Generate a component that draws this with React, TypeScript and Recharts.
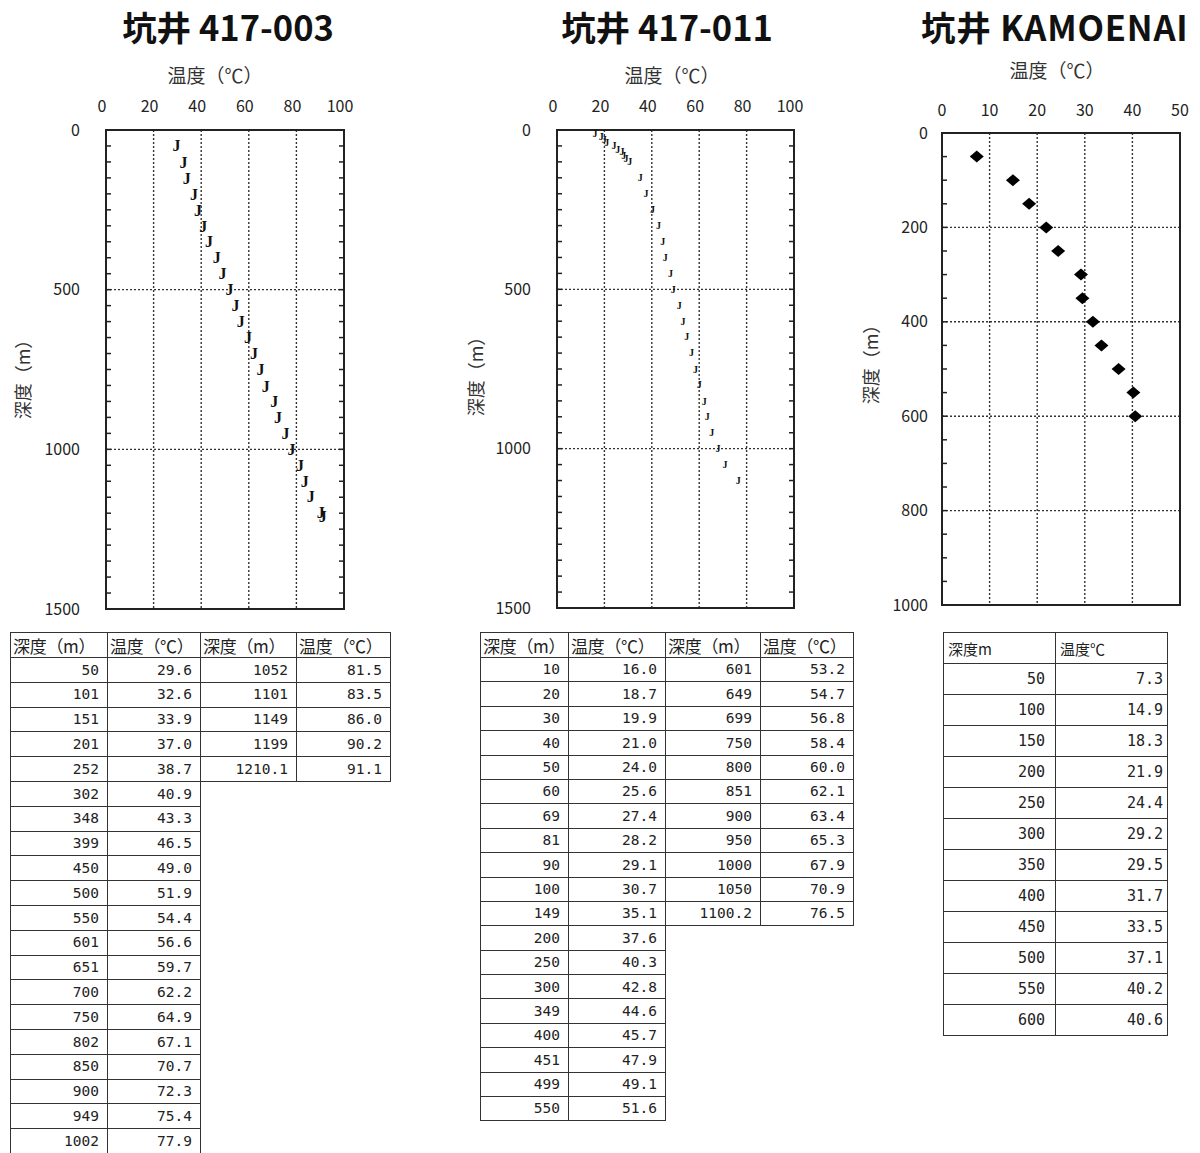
import React from "react";
import { ScatterChart, Scatter, XAxis, YAxis, CartesianGrid, ReferenceArea } from "recharts";

// 坑井 417-003
const depth003 = [50, 101, 151, 201, 252, 302, 348, 399, 450, 500, 550, 601, 651, 700, 750, 802, 850, 900, 949, 1002, 1052, 1101, 1149, 1199, 1210.1];
const temp003 = [29.6, 32.6, 33.9, 37.0, 38.7, 40.9, 43.3, 46.5, 49.0, 51.9, 54.4, 56.6, 59.7, 62.2, 64.9, 67.1, 70.7, 72.3, 75.4, 77.9, 81.5, 83.5, 86.0, 90.2, 91.1];
const split003 = 20;

// 坑井 417-011
const depth011 = [10, 20, 30, 40, 50, 60, 69, 81, 90, 100, 149, 200, 250, 300, 349, 400, 451, 499, 550, 601, 649, 699, 750, 800, 851, 900, 950, 1000, 1050, 1100.2];
const temp011 = [16.0, 18.7, 19.9, 21.0, 24.0, 25.6, 27.4, 28.2, 29.1, 30.7, 35.1, 37.6, 40.3, 42.8, 44.6, 45.7, 47.9, 49.1, 51.6, 53.2, 54.7, 56.8, 58.4, 60.0, 62.1, 63.4, 65.3, 67.9, 70.9, 76.5];
const split011 = 19;

// 坑井 KAMOENAI
const depthKam = [50, 100, 150, 200, 250, 300, 350, 400, 450, 500, 550, 600];
const tempKam = [7.3, 14.9, 18.3, 21.9, 24.4, 29.2, 29.5, 31.7, 33.5, 37.1, 40.2, 40.6];

const tempTicks100 = [0, 20, 40, 60, 80, 100];
const depthTicks1500 = [0, 500, 1000, 1500];
const tempTicks50 = [0, 10, 20, 30, 40, 50];
const depthTicks1000 = [0, 200, 400, 600, 800, 1000];

const steps = (max: number, step: number) => {
  const out: number[] = [];
  for (let v = 0; v <= max + 1e-9; v += step) out.push(v);
  return out;
};

const CJK = '"Noto Sans CJK JP", "Noto Sans", sans-serif';
const MONO = '"DejaVu Sans Mono", "Liberation Mono", monospace';
const INK = "#222";

const JMark = (size: number) => (p: any) => (
  <text x={p.cx} y={p.cy} textAnchor="middle" dominantBaseline="central"
    fontFamily='"Liberation Serif", serif' fontWeight="bold" fontSize={size} fill="#111">J</text>
);

const Diamond = (p: any) => (
  <polygon
    points={`${p.cx},${p.cy - 6} ${p.cx + 7},${p.cy} ${p.cx},${p.cy + 6} ${p.cx - 7},${p.cy}`}
    fill="#000"
  />
);

const NoTick = () => <g />;

interface ProfileProps {
  depths: number[];
  temps: number[];
  xMax: number;
  yMax: number;
  xTicks: number[];
  yTicks: number[];
  xMinor: number;
  yMinor: number;
  sides: { top: boolean; bottom: boolean; left: boolean; right: boolean };
  width: number;
  height: number;
  margin: { top: number; right: number; bottom: number; left: number };
  xGap: number;
  yGap: number;
  xShift: number;
  shape: any;
}

function Profile(props: ProfileProps) {
  const { depths, temps, xMax, yMax, xTicks, yTicks, sides } = props;
  const data = depths.map((d, i) => ({ d, t: temps[i] }));
  const xm = steps(xMax, props.xMinor);
  const ym = steps(yMax, props.yMinor);
  const tickFont = { fontSize: 16, fill: INK, fontFamily: CJK };
  const minorLine = { stroke: INK, strokeWidth: 1.5 };
  return (
    <ScatterChart width={props.width} height={props.height} margin={props.margin}>
      <CartesianGrid stroke="#333" strokeWidth={1.4} strokeDasharray="2 2" />
      <XAxis type="number" dataKey="t" orientation="top" domain={[0, xMax]} ticks={xTicks} interval={0}
        height={1} tickSize={0} tickMargin={props.xGap} axisLine={false} tickLine={false}
        tick={{ ...tickFont, dx: props.xShift }} allowDataOverflow />
      <YAxis type="number" dataKey="d" orientation="left" reversed domain={[0, yMax]} ticks={yTicks} interval={0}
        width={1} tickSize={0} tickMargin={props.yGap} axisLine={false} tickLine={false} tick={tickFont} allowDataOverflow />
      {sides.top && (
        <XAxis xAxisId="mt" type="number" orientation="top" mirror domain={[0, xMax]} ticks={xm} interval={0} allowDataOverflow
          height={1} tickSize={5} tick={NoTick} axisLine={false} tickLine={minorLine} />
      )}
      {sides.bottom && (
        <XAxis xAxisId="mb" type="number" orientation="bottom" mirror domain={[0, xMax]} ticks={xm} interval={0} allowDataOverflow
          height={1} tickSize={5} tick={NoTick} axisLine={false} tickLine={minorLine} />
      )}
      {sides.left && (
        <YAxis yAxisId="ml" type="number" orientation="left" mirror reversed domain={[0, yMax]} ticks={ym} interval={0} allowDataOverflow
          width={1} tickSize={5} tick={NoTick} axisLine={false} tickLine={minorLine} />
      )}
      {sides.right && (
        <YAxis yAxisId="mr" type="number" orientation="right" mirror reversed domain={[0, yMax]} ticks={ym} interval={0} allowDataOverflow
          width={1} tickSize={5} tick={NoTick} axisLine={false} tickLine={minorLine} />
      )}
      <ReferenceArea x1={0} x2={xMax} y1={0} y2={yMax} fill="none" stroke={INK} strokeWidth={2} />
      <Scatter data={data} dataKey="d" shape={props.shape} isAnimationActive={false} />
    </ScatterChart>
  );
}

interface PairTableProps {
  depths: number[];
  temps: number[];
  split: number;
  left: number;
  top: number;
  cols: number[];
  headH: number;
  rowH: number;
}

function PairTable({ depths, temps, split, left, top, cols, headH, rowH }: PairTableProps) {
  const bd = "1.5px solid #333";
  const cell = (txt: string, w: number, on: boolean) => (
    <td style={{
      width: w, height: rowH, padding: "0 8px 0 0", textAlign: "right", border: on ? bd : "none",
      fontFamily: MONO, fontSize: 14.5, color: INK, boxSizing: "border-box", lineHeight: 1,
    }}>{txt}</td>
  );
  const head = (txt: string, w: number) => (
    <td style={{
      width: w, height: headH, padding: "0 0 0 2px", textAlign: "left", border: bd, whiteSpace: "nowrap",
      fontFamily: CJK, fontSize: 17, letterSpacing: -0.3, color: INK, boxSizing: "border-box", lineHeight: 1, overflow: "hidden",
    }}>{txt}</td>
  );
  const rows = [];
  for (let i = 0; i < split; i++) {
    const j = split + i;
    const has = j < depths.length;
    rows.push(
      <tr key={i}>
        {cell(String(depths[i]), cols[0], true)}
        {cell(temps[i].toFixed(1), cols[1], true)}
        {cell(has ? String(depths[j]) : "", cols[2], has)}
        {cell(has ? temps[j].toFixed(1) : "", cols[3], has)}
      </tr>
    );
  }
  const total = cols.reduce((a, b) => a + b, 0);
  return (
    <table style={{ position: "absolute", left, top, width: total, borderCollapse: "collapse", tableLayout: "fixed" }}>
      <colgroup>
        {cols.map((w, i) => <col key={i} style={{ width: w }} />)}
      </colgroup>
      <tbody>
        <tr>
          {head("深度（m）", cols[0])}
          {head("温度（℃）", cols[1])}
          {head("深度（m）", cols[2])}
          {head("温度（℃）", cols[3])}
        </tr>
        {rows}
      </tbody>
    </table>
  );
}

function KamTable() {
  const bd = "1.5px solid #333";
  const base = { border: bd, boxSizing: "border-box" as const, color: INK, height: 31, lineHeight: 1 };
  return (
    <table style={{ position: "absolute", left: 943, top: 632, width: 224, borderCollapse: "collapse", tableLayout: "fixed" }}>
      <tbody>
        <tr>
          <td style={{ ...base, width: 112, fontFamily: CJK, fontSize: 15, paddingLeft: 4 }}>深度m</td>
          <td style={{ ...base, width: 112, fontFamily: CJK, fontSize: 15, paddingLeft: 4 }}>温度℃</td>
        </tr>
        {depthKam.map((d, i) => (
          <tr key={d}>
            <td style={{ ...base, width: 112, fontFamily: MONO, fontSize: 15, textAlign: "right", paddingRight: 10 }}>{d}</td>
            <td style={{ ...base, width: 112, fontFamily: MONO, fontSize: 15, textAlign: "right", paddingRight: 4 }}>{tempKam[i].toFixed(1)}</td>
          </tr>
        ))}
      </tbody>
    </table>
  );
}

const abs = (left: number, top: number, extra: any = {}) => ({ position: "absolute" as const, left, top, ...extra });

function Title({ text, cx, left, spacing = 0 }: { text: string; cx?: number; left?: number; spacing?: number }) {
  const style: any = {
    position: "absolute", top: 4, fontFamily: CJK, fontWeight: 700, fontSize: 34.5, color: "#111",
    whiteSpace: "nowrap", lineHeight: "44px", letterSpacing: spacing,
  };
  if (cx !== undefined) { style.left = cx - 200; style.width = 400; style.textAlign = "center"; }
  else style.left = left;
  return <div style={style}>{text}</div>;
}

function AxisTitle({ cx, top }: { cx: number; top: number }) {
  return (
    <div style={{ position: "absolute", left: cx - 60, width: 120, top, textAlign: "center", fontFamily: CJK, fontSize: 19, color: "#333", lineHeight: "24px" }}>
      温度（℃）
    </div>
  );
}

function DepthTitle({ cx, cy }: { cx: number; cy: number }) {
  return (
    <div style={{
      position: "absolute", left: cx - 50, top: cy - 12, width: 100, height: 24, textAlign: "center",
      fontFamily: CJK, fontSize: 18, color: "#333", lineHeight: "24px", transform: "rotate(-90deg)",
    }}>
      深度（m）
    </div>
  );
}

export default function App() {
  return (
    <div style={{ position: "absolute", left: 0, top: 0, width: 1200, height: 1153, overflow: "hidden", background: "#fff" }}>
      <Title text="坑井 417-003" cx={228} />
      <Title text="坑井 417-011" cx={667} />
      <Title text="坑井 KAMOENAI" left={921} spacing={0.8} />

      <AxisTitle cx={215} top={63} />
      <AxisTitle cx={672} top={63} />
      <AxisTitle cx={1057} top={58} />

      <DepthTitle cx={22} cy={375} />
      <DepthTitle cx={475} cy={372} />
      <DepthTitle cx={870} cy={360} />

      <div style={abs(0, 0)}>
        <Profile depths={depth003} temps={temp003} xMax={100} yMax={1500} xTicks={tempTicks100} yTicks={depthTicks1500}
          xMinor={4} yMinor={50} sides={{ top: true, bottom: true, left: true, right: true }}
          width={400} height={620} margin={{ top: 129, left: 105, right: 56, bottom: 11 }} xGap={18} yGap={26} xShift={-4} shape={JMark(16)} />
      </div>
      <div style={abs(450, 0)}>
        <Profile depths={depth011} temps={temp011} xMax={100} yMax={1500} xTicks={tempTicks100} yTicks={depthTicks1500}
          xMinor={4} yMinor={50} sides={{ top: true, bottom: true, left: true, right: true }}
          width={400} height={620} margin={{ top: 129, left: 106, right: 56, bottom: 12 }} xGap={18} yGap={26} xShift={-4} shape={JMark(10)} />
      </div>
      <div style={abs(850, 0)}>
        <Profile depths={depthKam} temps={tempKam} xMax={50} yMax={1000} xTicks={tempTicks50} yTicks={depthTicks1000}
          xMinor={2} yMinor={50} sides={{ top: true, bottom: false, left: true, right: false }}
          width={350} height={620} margin={{ top: 132, left: 91, right: 20, bottom: 15 }} xGap={17} yGap={14} xShift={0} shape={Diamond} />
      </div>

      <PairTable depths={depth003} temps={temp003} split={split003} left={10} top={632} cols={[97, 93, 96, 94]} headH={25} rowH={24.8} />
      <PairTable depths={depth011} temps={temp011} split={split011} left={480} top={632} cols={[88, 97, 95, 93]} headH={25} rowH={24.4} />
      <KamTable />
    </div>
  );
}
